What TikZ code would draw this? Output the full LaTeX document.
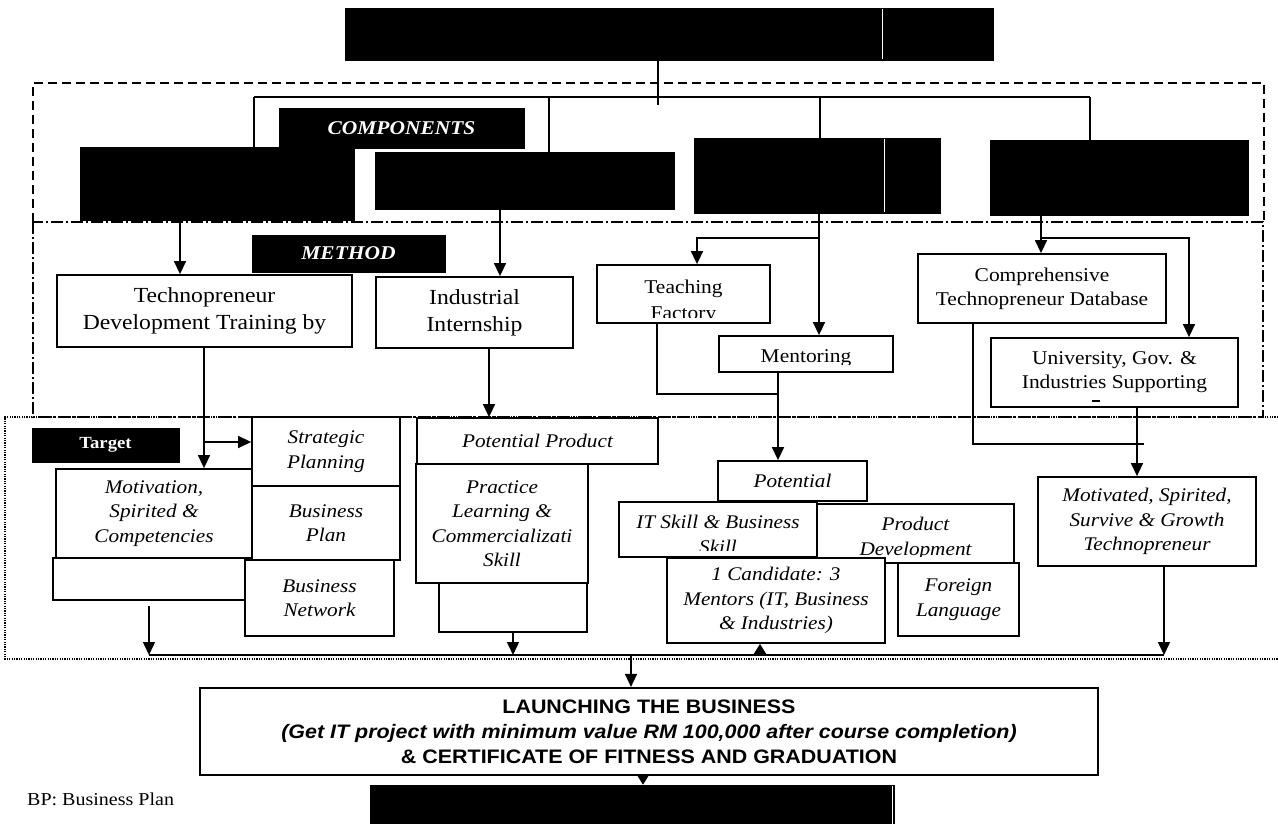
\documentclass[tikz,border=0pt]{standalone}
\usepackage{fontspec}
\setmainfont{Liberation Serif}[FakeStretch=1.1]
\newfontfamily\launchfont{Liberation Sans}[FakeStretch=1.1]
\usetikzlibrary{arrows.meta}
\newcommand\bxn[7][]{%
  \pgfmathsetmacro\bxcx{(#3+#5)/2}%
  \pgfmathsetmacro\bxcy{(#4+#6)/2}%
  \pgfmathsetmacro\bxw{#5-#3}%
  \pgfmathsetmacro\bxh{#6-#4}%
  \node[box,minimum width=\bxw pt,minimum height=\bxh pt,#1] (#2) at (\bxcx,\bxcy) {#7};}
\begin{document}
\begin{tikzpicture}[x=1pt,y=-1pt,
  box/.style={draw,line width=1.8pt,fill=white,inner sep=0pt,align=center,font=\fontsize{19.5}{24}\selectfont},
  bigt/.style={font=\fontsize{21.5}{27}\selectfont},
  itx/.style={font=\fontsize{19.3}{24.5}\selectfont\itshape},
  blk/.style={draw=black,fill=black,line width=0.5pt},
  lbl/.style={blk,text=white,font=\fontsize{19.5}{22}\selectfont\bfseries\itshape},
  txt/.style={inner sep=0pt,anchor=base,font=\fontsize{19.5}{24}\selectfont},
  conn/.style={line width=1.5pt},
  arr/.style={conn,-{Triangle[length=13pt,width=12pt]}},
  smallarr/.style={conn,-{Triangle[length=10pt,width=12pt]}},
  dashreg/.style={line width=1.3pt,dash pattern=on 9pt off 5pt},
  dashdotreg/.style={line width=1.3pt,dash pattern=on 12pt off 3pt on 2pt off 3pt},
  dotreg/.style={line width=1.5pt,dash pattern=on 1.2pt off 1.2pt}]
\useasboundingbox (0,0) rectangle (1278,824);
\fill[white] (0,0) rectangle (1278,824);

% regions
\draw[dashreg] (33,222) -- (33,83) -- (1264,83) -- (1264,222);
\draw[dashdotreg] (33,222) rectangle (1263,417);
\draw[dotreg] (1278,417) -- (5,417) -- (5,659) -- (1278,659);

% top and components
\bxn[blk]{top}{345}{8}{993}{60}{}
\draw[white,line width=0.8pt] (882,9) -- (882,59);
\coordinate (jTop) at (658,105);
\coordinate (jA) at (254,97);
\coordinate (jB) at (549,97);
\coordinate (jC) at (820,97);
\coordinate (jD) at (1090,97);
\draw[line width=2.2pt] (top.south -| jTop) -- (jTop);
\draw[line width=1.8pt] (jA) -- (jD);

\bxn[blk]{c1}{80}{147}{354}{220}{}
\bxn[blk]{c2}{375}{152}{674}{209}{}
\bxn[blk]{c3}{694}{138}{940}{213}{}
\bxn[blk]{c4}{990}{140}{1248}{215}{}
\draw[white,line width=0.8pt] (884,139) -- (884,212);
\bxn[lbl]{comp}{279}{108}{524}{148}{COMPONENTS}
\draw[conn] (jA) -- (jA |- c1.north);
\draw[conn] (jB) -- (jB |- c2.north);
\draw[conn] (jC) -- (jC |- c3.north);
\draw[conn] (jD) -- (jD |- c4.north);

% method
\bxn[lbl]{meth}{252}{235}{445}{272}{METHOD}
\bxn[bigt]{tdt}{57}{275}{352}{347}{Technopreneur\\Development Training by}
\bxn[bigt]{ii}{376}{277}{573}{348}{Industrial\\Internship}
\bxn{tf}{597}{265}{770}{323}{}
\bxn{men}{719}{336}{893}{372}{}
\bxn{ctd}{918}{254}{1166}{323}{Comprehensive\\Technopreneur Database}
\bxn{ugi}{991}{338}{1238}{407}{University, Gov. \&\\Industries Supporting}
\begin{scope}
\clip (597,265) rectangle (770,317);
\node[txt] (tfa) at (683.5,293) {Teaching};
\node[txt] (tfb) at (683.5,319) {Factory};
\end{scope}
\begin{scope}
\clip (719,336) rectangle (893,364);
\node[txt] (mena) at (806,362) {Mentoring};
\end{scope}
\draw[line width=1.2pt] (1092,401) -- (1100,401);

\coordinate (x180) at (180,0);
\coordinate (x500) at (500,0);
\draw[arr] (c1.south -| x180) -- (tdt.north -| x180);
\draw[arr] (c2.south -| x500) -- (ii.north -| x500);
\coordinate (kC) at (819,238);
\coordinate (kTF) at (697,238);
\draw[arr] (c3.south -| kC) -- (kC |- men.north);
\draw[arr] (kC) -- (kTF) -- (kTF |- tf.north);
\coordinate (kD) at (1041,238);
\coordinate (kU) at (1189,238);
\draw[arr] (c4.south -| kD) -- (kD |- ctd.north);
\draw[arr] (kD) -- (kU) -- (kU |- ugi.north);

% target
\bxn[blk,text=white,font=\fontsize{17}{20}\selectfont\bfseries]{tgt}{32}{428}{179}{462}{Target}
\bxn[itx]{sp}{252}{417}{400}{486}{Strategic\\Planning}
\bxn[itx]{bpl}{252}{486}{400}{560}{Business\\Plan}
\bxn[itx]{mot}{56}{469}{252}{558}{Motivation,\\Spirited \&\\Competencies}
\bxn{mote}{53}{558}{248}{600}{}
\bxn[itx]{bn}{245}{560}{394}{636}{Business\\Network}
\bxn[itx]{pp}{417}{418}{658}{464}{Potential Product}
\bxn[itx]{pl}{416}{464}{588}{583}{Practice\\Learning \&\\Commercializati\\Skill}
\bxn{ple}{439}{583}{587}{632}{}
\bxn[itx]{pot}{718}{461}{867}{501}{Potential}
\bxn{its}{619}{502}{817}{557}{}
\bxn{pd}{817}{504}{1014}{563}{}
\begin{scope}
\clip (619,502) rectangle (817,550);
\node[txt,itx] (itsa) at (718,528) {IT Skill \& Business};
\node[txt,itx] (itsb) at (718,553) {Skill};
\end{scope}
\begin{scope}
\clip (817,504) rectangle (1014,556);
\node[txt,itx] (pda) at (915.5,530) {Product};
\node[txt,itx] (pdb) at (915.5,555) {Development};
\end{scope}
\bxn[itx]{can}{667}{558}{885}{643}{1 Candidate: 3\\Mentors (IT, Business\\\& Industries)}
\bxn[itx]{fl}{898}{563}{1019}{636}{Foreign\\Language}
\bxn[itx]{mtv}{1038}{477}{1256}{566}{Motivated, Spirited,\\Survive \& Growth\\Technopreneur}

\coordinate (kT) at (204,442);
\draw[arr] (tdt.south -| kT) -- (kT |- mot.north);
\draw[arr] (kT) -- (kT -| sp.west);
\coordinate (x489) at (489,0);
\draw[arr] (ii.south -| x489) -- (pp.north -| x489);
\coordinate (kF) at (657,394);
\coordinate (kM) at (778,394);
\draw[conn] (tf.south -| kF) -- (kF) -- (kM);
\draw[arr] (men.south -| kM) -- (kM |- pot.north);
\coordinate (kB) at (973,444);
\coordinate (kE) at (1144,444);
\draw[conn] (ctd.south -| kB) -- (kB) -- (kE);
\coordinate (x1137) at (1137,0);
\draw[arr] (ugi.south -| x1137) -- (mtv.north -| x1137);

% bottom bus
\coordinate (sL) at (149,606);
\coordinate (bL) at (149,655);
\coordinate (bR) at (1164,655);
\draw[conn] (bL) -- (bR);
\draw[arr] (sL) -- (bL);
\draw[arr] (ple.south) -- (ple.south |- bL);
\draw[arr] (mtv.south -| bR) -- (bR);
\coordinate (cA) at (760,655);
\draw[smallarr] (cA) -- (cA |- can.south);

% launch
\bxn[line width=2.2pt,font=\launchfont\bfseries\fontsize{19.5}{25}\selectfont]{launch}{200}{688}{1098}{775}{LAUNCHING THE BUSINESS\\\itshape (Get IT project with minimum value RM 100,000 after course completion)\\\& CERTIFICATE OF FITNESS AND GRADUATION}
\coordinate (lA) at (631,655);
\draw[arr] (lA) -- (lA |- launch.north);
\bxn[blk]{bot}{370}{785}{894}{830}{}
\draw[white,line width=0.8pt] (892,786) -- (892,824);
\coordinate (lB) at (643,775);
\draw[smallarr] (lB |- launch.south) -- (lB |- bot.north);

\node[inner sep=0pt,anchor=base west,font=\fontsize{18.2}{22}\selectfont] (bp) at (27,805) {BP: Business Plan};
\end{tikzpicture}
\end{document}
